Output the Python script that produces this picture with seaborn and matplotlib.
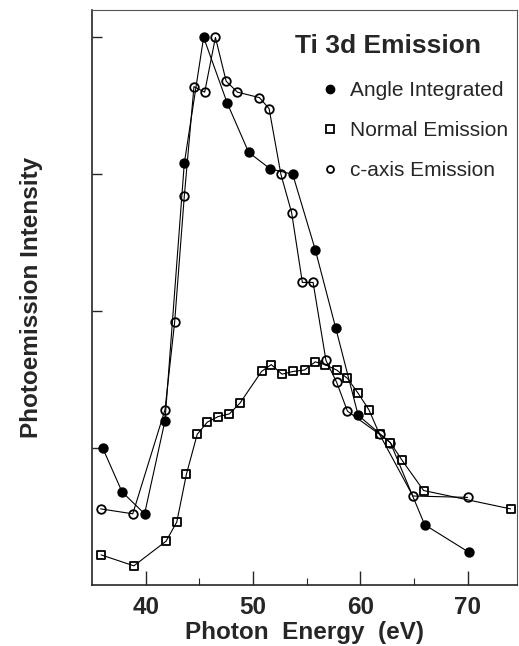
import matplotlib
matplotlib.use("Agg")
import matplotlib.pyplot as plt
import seaborn as sns
from matplotlib.lines import Line2D
from matplotlib.ticker import FixedLocator, NullFormatter

# --- datos (eV, intensidad en unidades de tick) ---
energy_ai = [36.0, 37.8, 39.9, 41.8, 43.6, 45.4, 47.6, 49.6, 51.6, 53.7, 55.8, 57.7, 59.8, 62.8, 66.0, 70.1]
int_ai = [1.00, 0.68, 0.52, 1.20, 3.08, 4.00, 3.52, 3.16, 3.04, 3.00, 2.45, 1.88, 1.24, 1.04, 0.44, 0.24]

energy_ne = [35.85, 38.9, 41.9, 42.9, 43.8, 44.8, 45.75, 46.75, 47.8, 48.8, 50.8, 51.7, 52.7,
             53.75, 54.8, 55.8, 56.7, 57.8, 58.8, 59.8, 60.8, 61.8, 62.8, 63.9, 65.9, 74.0]
int_ne = [0.22, 0.14, 0.32, 0.46, 0.81, 1.10, 1.19, 1.23, 1.25, 1.33, 1.56, 1.61, 1.54,
          1.56, 1.57, 1.63, 1.61, 1.57, 1.51, 1.40, 1.28, 1.10, 1.04, 0.91, 0.69, 0.556]

energy_ca = [35.8, 38.8, 41.8, 42.7, 43.6, 44.5, 45.5, 46.5, 47.5, 48.55, 50.6, 51.5, 52.6,
             53.6, 54.6, 55.6, 56.8, 57.8, 58.8, 61.8, 64.9, 70.0]
int_ca = [0.556, 0.52, 1.28, 1.92, 2.84, 3.64, 3.60, 4.00, 3.68, 3.60, 3.56, 3.48, 3.00,
          2.72, 2.21, 2.21, 1.64, 1.48, 1.27, 1.10, 0.65, 0.64]

labels = ["Angle Integrated", "Normal Emission", "c-axis Emission"]
x_ticks = [40, 50, 60, 70]
x_minor = [45, 55, 65]
y_ticks = [1, 2, 3, 4]

sns.set_style("ticks")
plt.rcParams['font.family'] = ['Liberation Sans', 'DejaVu Sans']

fig = plt.figure(figsize=(5.19, 6.46), dpi=100)
ax = fig.add_axes([92/519, 1 - 585/646, 425/519, 575/646])

series = [
    (energy_ai, int_ai, 'o', 'black'),
    (energy_ne, int_ne, 's', 'white'),
    (energy_ca, int_ca, 'o', 'white'),
]
for xs, ys, mk, fc in series:
    # marcadores primero, la linea pasa por encima como en el original
    sns.scatterplot(x=xs, y=ys, marker=mk, s=38, color=fc, edgecolor='black',
                    linewidth=1.3, zorder=2, ax=ax, legend=False)
    sns.lineplot(x=xs, y=ys, color='black', lw=0.8, sort=False, estimator=None,
                 zorder=3, ax=ax, legend=False)

ax.set_xlim(35.0, 74.6)
ax.set_ylim(0, 4.2)

ax.xaxis.set_major_locator(FixedLocator(x_ticks))
ax.xaxis.set_minor_locator(FixedLocator(x_minor))
ax.yaxis.set_major_locator(FixedLocator(y_ticks))
ax.yaxis.set_major_formatter(NullFormatter())
ax.tick_params(axis='x', which='major', direction='in', length=10, width=1, pad=8)
ax.tick_params(axis='x', which='minor', direction='in', length=5, width=0.8)
ax.tick_params(axis='y', direction='in', length=7, width=1)
for lab in ax.get_xticklabels():
    lab.set_fontsize(17.5)
    lab.set_fontweight('bold')

for side in ['left', 'bottom']:
    ax.spines[side].set_linewidth(1.2)
for side in ['top', 'right']:
    ax.spines[side].set_linewidth(0.8)
    ax.spines[side].set_color('#555555')

ax.set_xlabel("Photon  Energy  (eV)", fontsize=17.5, fontweight='bold', labelpad=1)
ax.set_ylabel("Photoemission Intensity", fontsize=17.5, fontweight='bold', labelpad=32)

# leyenda
fig.text(295/519, 1 - 53/646, "Ti 3d Emission", fontsize=19, fontweight='bold', va='baseline')
handles = [
    Line2D([], [], ls='none', marker='o', ms=6, mfc='black', mec='black'),
    Line2D([], [], ls='none', marker='s', ms=5.5, mfc='white', mec='black', mew=1.3),
    Line2D([], [], ls='none', marker='o', ms=5, mfc='white', mec='black', mew=1.3),
]
ax.legend(handles, labels, loc='upper left', bbox_to_anchor=(322/519, 1 - 81/646),
          bbox_transform=fig.transFigure, frameon=False, fontsize=15,
          handlelength=0.8, handletextpad=0.55, labelspacing=1.02,
          borderpad=0, borderaxespad=0)

fig.savefig("out.png", dpi=100)
